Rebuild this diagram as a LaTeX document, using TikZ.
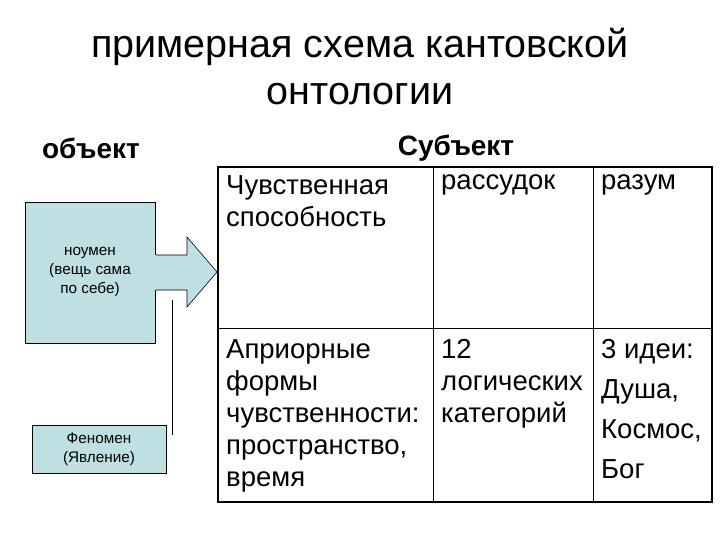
\documentclass[tikz,border=0pt]{standalone}
\usepackage{fontspec}
\setmainfont{Liberation Sans}
\definecolor{boxc}{RGB}{190,224,226}
\begin{document}
\begin{tikzpicture}[x=1pt,y=-1pt,
  cell/.style={anchor=north west,inner sep=0pt,align=left,font=\fontsize{27.5}{32}\selectfont},
  small/.style={align=center,font=\fontsize{15.3}{19}\selectfont},
  box/.style={draw=black,fill=boxc,line width=0.6pt}]
\useasboundingbox (0,0) rectangle (720,540);
\node[font=\fontsize{39.5}{47}\selectfont,align=center] (title) at (360,67) {примерная схема кантовской\\онтологии};
\node[font=\bfseries\fontsize{28}{30}\selectfont] (obj) at (91,148) {объект};
\node[font=\bfseries\fontsize{28}{30}\selectfont] (subj) at (456,148) {Субъект};
% table
\draw[line width=1.6pt] (218,167) rectangle (712,502);
\draw[line width=0.8pt] (218,328) -- (712,328) (433,167) -- (433,502) (593,167) -- (593,502);
\node[cell] (c11) at (226,175) {Чувственная\\способность};
\node[cell] (c12) at (441,175) {рассудок};
\node[cell] (c13) at (601,175) {разум};
\node[cell] (c21) at (226,339) {Априорные\\формы\\чувственности:\\пространство,\\время};
\node[cell] (c22) at (441,339) {12\\логических\\категорий};
\node[cell,font=\fontsize{27.5}{40}\selectfont] (c23) at (601,339) {3 идеи:\\Душа,\\Космос,\\Бог};
% noumen
\fill[boxc] (25,202) rectangle (155,343);
\draw[box] (155,255) -- (187,255) -- (187,237) -- (217,272) -- (187,307) -- (187,290) -- (155,290);
\draw[box] (25,202) rectangle (155,343);
\fill[boxc] (154,255.4) rectangle (156,289.6);
\node[small] (noum) at (90,272) {ноумен\\(вещь сама\\по себе)};
\node[box,small,minimum width=134pt,minimum height=48pt] (phen) at (99,449) {Феномен\\(Явление)};
\coordinate (lt) at (172,300);
\coordinate (lb) at (172,435);
\draw[line width=0.6pt] (lt) -- (lb);
\end{tikzpicture}
\end{document}
